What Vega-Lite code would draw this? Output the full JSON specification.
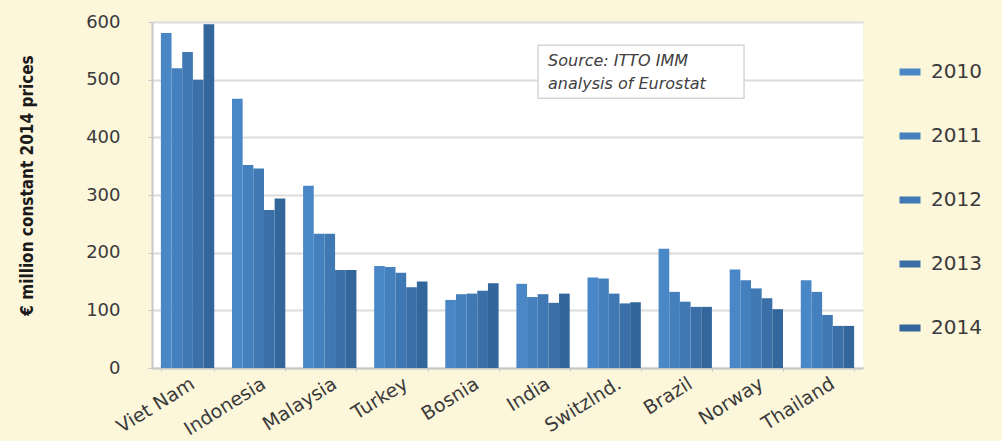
{
  "$schema": "https://vega.github.io/schema/vega-lite/v6.json",
  "width": 711,
  "height": 346,
  "autosize": {"type": "none"},
  "padding": {"left": 152, "top": 22, "right": 139, "bottom": 73},
  "background": "#FCF6DA",
  "config": {
    "view": {"fill": "white", "stroke": null},
    "font": "DejaVu Sans"
  },
  "data": {
    "values": [
      {"country": "Viet Nam", "year": "2010", "value": 581},
      {"country": "Viet Nam", "year": "2011", "value": 520},
      {"country": "Viet Nam", "year": "2012", "value": 548},
      {"country": "Viet Nam", "year": "2013", "value": 500},
      {"country": "Viet Nam", "year": "2014", "value": 596},
      {"country": "Indonesia", "year": "2010", "value": 467},
      {"country": "Indonesia", "year": "2011", "value": 352},
      {"country": "Indonesia", "year": "2012", "value": 346},
      {"country": "Indonesia", "year": "2013", "value": 274},
      {"country": "Indonesia", "year": "2014", "value": 294},
      {"country": "Malaysia", "year": "2010", "value": 316},
      {"country": "Malaysia", "year": "2011", "value": 233},
      {"country": "Malaysia", "year": "2012", "value": 233},
      {"country": "Malaysia", "year": "2013", "value": 170},
      {"country": "Malaysia", "year": "2014", "value": 170},
      {"country": "Turkey", "year": "2010", "value": 177},
      {"country": "Turkey", "year": "2011", "value": 175},
      {"country": "Turkey", "year": "2012", "value": 165},
      {"country": "Turkey", "year": "2013", "value": 140},
      {"country": "Turkey", "year": "2014", "value": 150},
      {"country": "Bosnia", "year": "2010", "value": 118},
      {"country": "Bosnia", "year": "2011", "value": 128},
      {"country": "Bosnia", "year": "2012", "value": 129},
      {"country": "Bosnia", "year": "2013", "value": 134},
      {"country": "Bosnia", "year": "2014", "value": 147},
      {"country": "India", "year": "2010", "value": 146},
      {"country": "India", "year": "2011", "value": 123},
      {"country": "India", "year": "2012", "value": 128},
      {"country": "India", "year": "2013", "value": 113},
      {"country": "India", "year": "2014", "value": 129},
      {"country": "Switzlnd.", "year": "2010", "value": 157},
      {"country": "Switzlnd.", "year": "2011", "value": 155},
      {"country": "Switzlnd.", "year": "2012", "value": 129},
      {"country": "Switzlnd.", "year": "2013", "value": 112},
      {"country": "Switzlnd.", "year": "2014", "value": 114},
      {"country": "Brazil", "year": "2010", "value": 207},
      {"country": "Brazil", "year": "2011", "value": 132},
      {"country": "Brazil", "year": "2012", "value": 115},
      {"country": "Brazil", "year": "2013", "value": 106},
      {"country": "Brazil", "year": "2014", "value": 106},
      {"country": "Norway", "year": "2010", "value": 171},
      {"country": "Norway", "year": "2011", "value": 152},
      {"country": "Norway", "year": "2012", "value": 138},
      {"country": "Norway", "year": "2013", "value": 121},
      {"country": "Norway", "year": "2014", "value": 102},
      {"country": "Thailand", "year": "2010", "value": 152},
      {"country": "Thailand", "year": "2011", "value": 132},
      {"country": "Thailand", "year": "2012", "value": 92},
      {"country": "Thailand", "year": "2013", "value": 73},
      {"country": "Thailand", "year": "2014", "value": 73}
    ]
  },
  "layer": [
    {
      "mark": {"type": "bar"},
      "encoding": {
        "x": {
          "field": "country",
          "type": "nominal",
          "sort": ["Viet Nam", "Indonesia", "Malaysia", "Turkey", "Bosnia", "India", "Switzlnd.", "Brazil", "Norway", "Thailand"],
          "scale": {"paddingInner": 0.25, "paddingOuter": 0.125},
          "axis": {
            "title": null,
            "labelAngle": -32,
            "labelFontSize": 19,
            "labelColor": "#3a3a3a",
            "labelPadding": 3,
            "domainColor": "#c8c8c8",
            "domainWidth": 2,
            "tickBand": "extent",
            "tickSize": 3,
            "tickColor": "#c8c8c8",
            "grid": false
          }
        },
        "xOffset": {"field": "year", "type": "nominal", "scale": {"paddingInner": 0}},
        "y": {
          "field": "value",
          "type": "quantitative",
          "scale": {"domain": [0, 600], "nice": false},
          "axis": {
            "values": [0, 100, 200, 300, 400, 500, 600],
            "title": "€ million constant 2014 prices",
            "titleFont": "DejaVu Sans Condensed",
            "titleFontSize": 17,
            "titleFontWeight": "bold",
            "titleColor": "#1a1a1a",
            "titleAngle": -90,
            "titleAlign": "center",
            "titleBaseline": "middle",
            "titleX": -125,
            "titleY": 163,
            "labelFontSize": 18,
            "labelColor": "#3a3a3a",
            "labelPadding": 28,
            "tickSize": 4,
            "tickColor": "#c8c8c8",
            "domainColor": "#c8c8c8",
            "domainWidth": 2,
            "gridColor": "#dcdcdc",
            "gridWidth": 2
          }
        },
        "color": {
          "field": "year",
          "type": "nominal",
          "scale": {"range": ["#4A87C7", "#4580BE", "#3F78B3", "#3A70A7", "#33669A"]},
          "legend": {
            "title": null,
            "orient": "none",
            "legendX": 748,
            "legendY": 40,
            "padding": 0,
            "symbolType": "M-2.1,-0.7H2.1V0.7H-2.1Z",
            "symbolSize": 100,
            "symbolStrokeWidth": 0,
            "labelFontSize": 20,
            "labelColor": "#3a3a3a",
            "labelOffset": 11,
            "rowPadding": 44
          }
        }
      }
    },
    {
      "data": {"values": [{"country": "India", "v": 530}]},
      "mark": {
        "type": "point",
        "shape": "M-5,-17H201V36H-5Z",
        "size": 4,
        "filled": true,
        "fill": "white",
        "stroke": "#d6d6d6",
        "strokeWidth": 1.5,
        "opacity": 1
      },
      "encoding": {
        "x": {"field": "country", "type": "nominal", "sort": ["Viet Nam", "Indonesia", "Malaysia", "Turkey", "Bosnia", "India", "Switzlnd.", "Brazil", "Norway", "Thailand"]},
        "y": {"field": "v", "type": "quantitative"}
      }
    },
    {
      "data": {"values": [{"country": "India", "v": 530, "label": ["Source: ITTO IMM", "analysis of Eurostat"]}]},
      "mark": {
        "type": "text",
        "align": "left",
        "baseline": "alphabetic",
        "dx": 5,
        "dy": 4,
        "lineHeight": 23,
        "fontSize": 16,
        "fontStyle": "italic",
        "color": "#404040"
      },
      "encoding": {
        "x": {"field": "country", "type": "nominal", "sort": ["Viet Nam", "Indonesia", "Malaysia", "Turkey", "Bosnia", "India", "Switzlnd.", "Brazil", "Norway", "Thailand"]},
        "y": {"field": "v", "type": "quantitative"},
        "text": {"field": "label"}
      }
    }
  ]
}
